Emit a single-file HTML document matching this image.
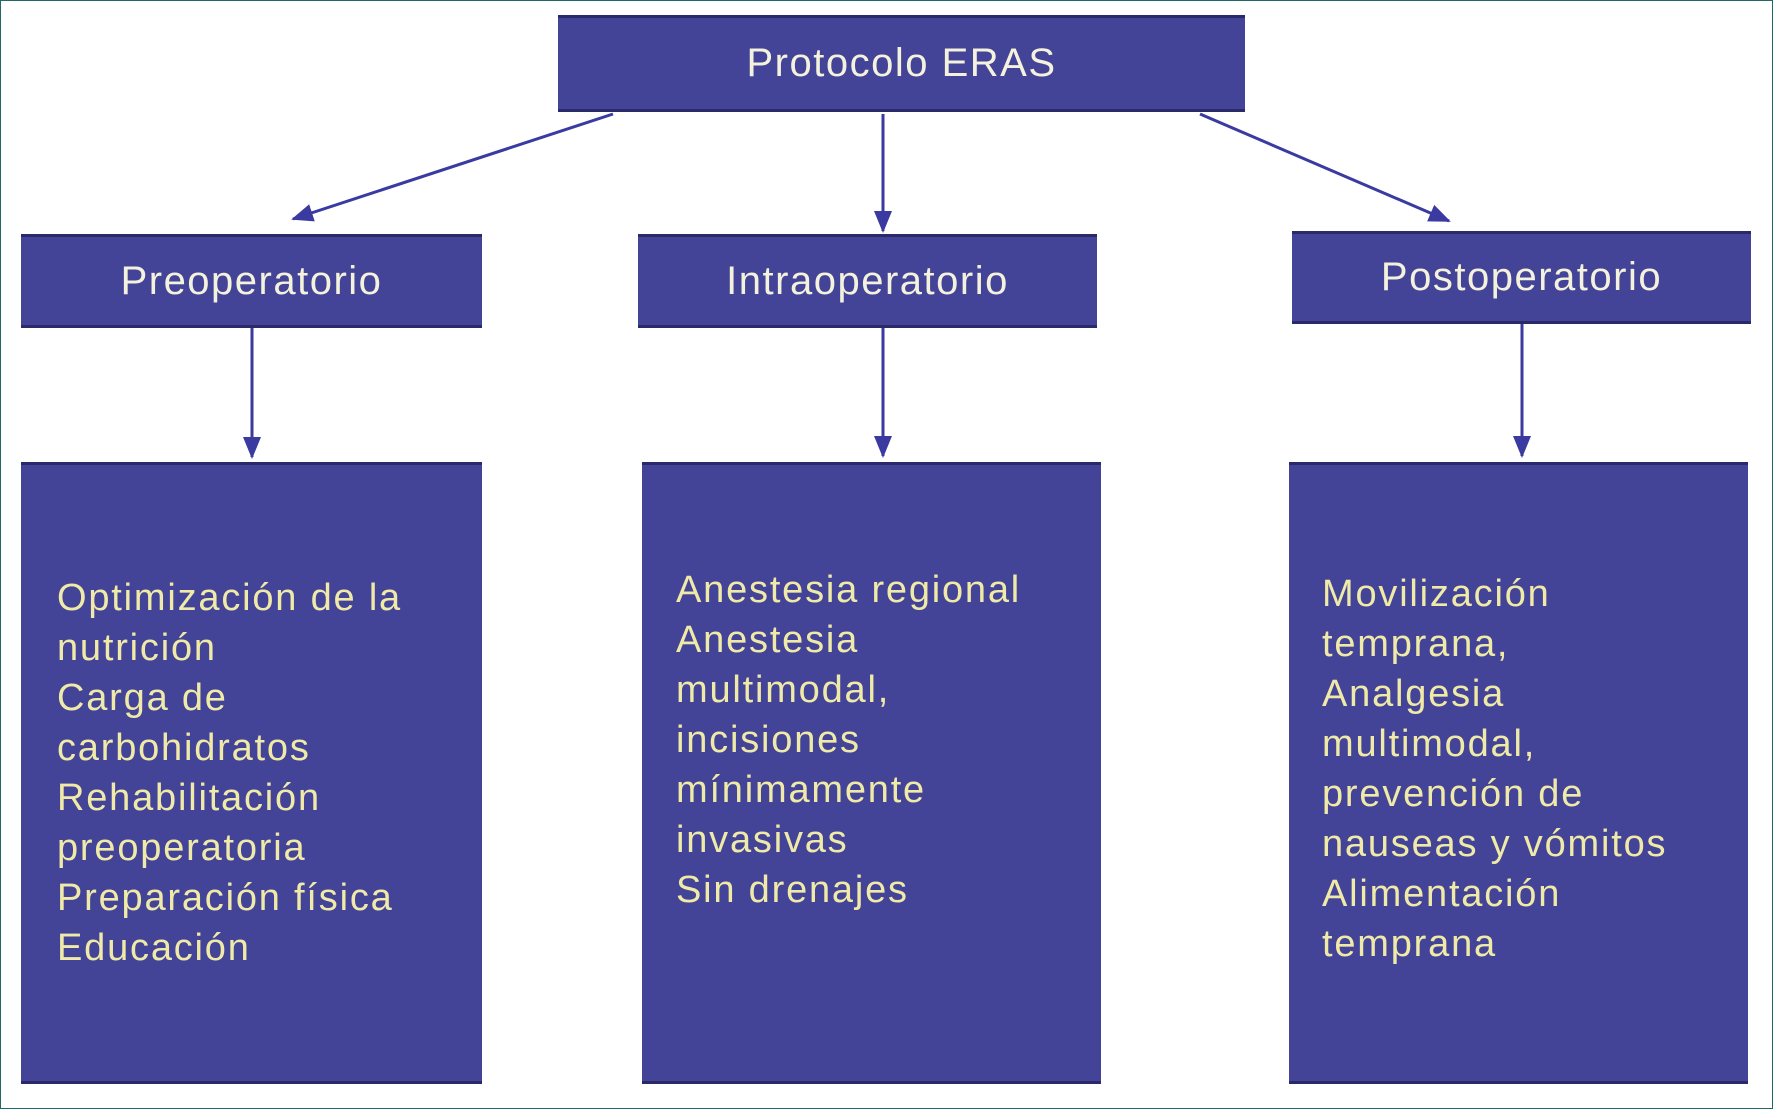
<!DOCTYPE html>
<html><head><style>
html,body{margin:0;padding:0;background:#fff;}
#c{position:relative;width:1771px;height:1107px;border:1px solid #1e6a6a;overflow:hidden;font-family:"Liberation Sans",Arial,sans-serif;}
.b{position:absolute;background:#434397;border-top:3px solid #2a2a6a;border-bottom:3px solid #2a2a6a;box-sizing:border-box;}
.h{color:#f4f2dc;font-size:40px;display:flex;align-items:center;justify-content:center;letter-spacing:1.5px;}
.t{position:absolute;color:#efeaa8;font-size:38px;line-height:50px;letter-spacing:1.8px;}
svg{position:absolute;left:0;top:0;}
</style></head><body><div id="c">
<div class="b h" style="left:557px;top:14px;width:687px;height:97px;">Protocolo ERAS</div>
<div class="b h" style="left:20px;top:233px;width:461px;height:94px;">Preoperatorio</div>
<div class="b h" style="left:637px;top:233px;width:459px;height:94px;">Intraoperatorio</div>
<div class="b h" style="left:1291px;top:230px;width:459px;height:93px;">Postoperatorio</div>
<div class="b" style="left:20px;top:461px;width:461px;height:622px;"></div>
<div class="b" style="left:641px;top:461px;width:459px;height:622px;"></div>
<div class="b" style="left:1288px;top:461px;width:459px;height:622px;"></div>
<div class="t" style="left:56px;top:572px;">Optimización de la<br>nutrición<br>Carga de<br>carbohidratos<br>Rehabilitación<br>preoperatoria<br>Preparación física<br>Educación</div>
<div class="t" style="left:675px;top:564px;">Anestesia regional<br>Anestesia<br>multimodal,<br>incisiones<br>mínimamente<br>invasivas<br>Sin drenajes</div>
<div class="t" style="left:1321px;top:568px;">Movilización<br>temprana,<br>Analgesia<br>multimodal,<br>prevención de<br>nauseas y vómitos<br>Alimentación<br>temprana</div>
<svg width="1773" height="1109">
<defs>
<marker id="m" markerWidth="22" markerHeight="22" refX="20" refY="11" orient="auto" markerUnits="userSpaceOnUse"><path d="M0,2 L22,11 L0,20 z" fill="#3a3aa0"/></marker></defs>
<g stroke="#3a3aa0" stroke-width="3" fill="none">
<line x1="612" y1="113" x2="292" y2="218" marker-end="url(#m)"/>
<line x1="882" y1="113" x2="882" y2="230" marker-end="url(#m)"/>
<line x1="1199" y1="113" x2="1448" y2="220" marker-end="url(#m)"/>
<line x1="251" y1="327" x2="251" y2="456" marker-end="url(#m)"/>
<line x1="882" y1="327" x2="882" y2="455" marker-end="url(#m)"/>
<line x1="1521" y1="323" x2="1521" y2="455" marker-end="url(#m)"/>
</g></svg>
</div></body></html>
